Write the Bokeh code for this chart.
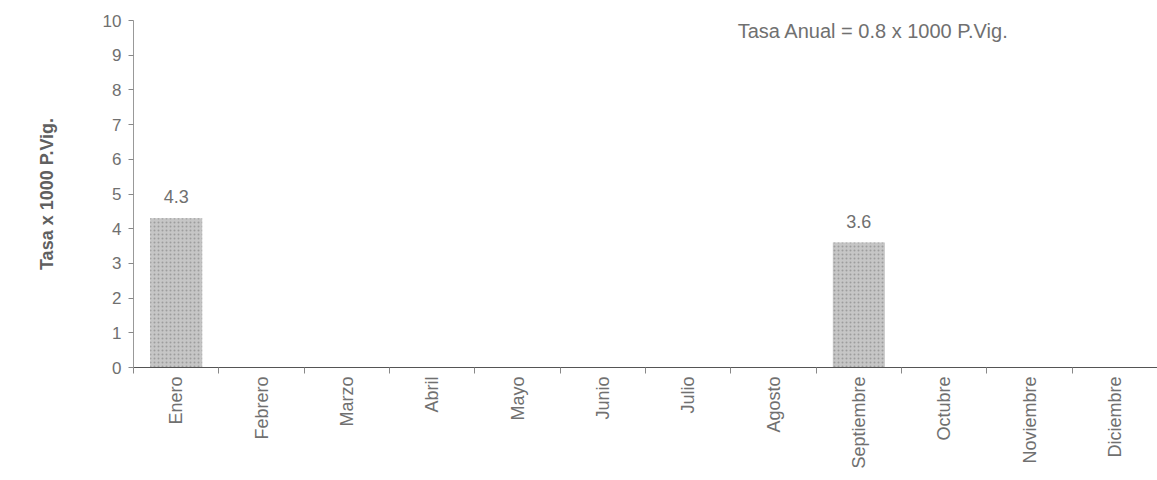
import math
from bokeh.plotting import figure
from bokeh.models import ColumnDataSource, Range1d, FixedTicker, Label
from bokeh.core.properties import value
from bokeh.embed import file_html
from bokeh.resources import INLINE

months = ["Enero", "Febrero", "Marzo", "Abril", "Mayo", "Junio", "Julio",
          "Agosto", "Septiembre", "Octubre", "Noviembre", "Diciembre"]
rates = [4.3, 0, 0, 0, 0, 0, 0, 0, 3.6, 0, 0, 0]
y_ticks = [0, 1, 2, 3, 4, 5, 6, 7, 8, 9, 10]
annotation = "Tasa Anual = 0.8 x 1000 P.Vig."
y_title = "Tasa x 1000 P.Vig."

FONT = "Liberation Sans"
TXT = "#707070"

centers = [i + 0.5 for i in range(len(months))]
bounds = list(range(len(months) + 1))

src = ColumnDataSource(dict(x=centers, top=rates, month=months))
lab = ColumnDataSource(dict(
    x=[c for c, r in zip(centers, rates) if r > 0],
    y=[r for r in rates if r > 0],
    t=[f"{r:.1f}" for r in rates if r > 0],
))

p = figure(width=1157, height=472, output_backend="svg", toolbar_location=None,
           x_range=Range1d(0, len(months)), y_range=Range1d(0, 10),
           min_border_left=133, min_border_right=0, min_border_top=20,
           min_border_bottom=105)
p.outline_line_color = None
p.xgrid.visible = False
p.ygrid.visible = False
p.background_fill_color = "white"

p.vbar(x="x", top="top", bottom=0, width=0.61, source=src,
       fill_color="#c6c6c6", line_color=None,
       hatch_pattern="dot", hatch_color="#8c8c8c", hatch_scale=4, hatch_alpha=0.7)

p.text(x="x", y="y", text="t", source=lab, text_align="center",
       text_baseline="bottom", y_offset=-15, text_font=value(FONT),
       text_font_size="18px", text_color=TXT)

p.add_layout(Label(x=7.08, y=9.71, text=annotation, text_baseline="middle",
                   text_font=FONT, text_font_size="20px", text_color=TXT))

# x axis
xa = p.xaxis[0]
xa.ticker = FixedTicker(ticks=centers, minor_ticks=bounds)
xa.major_label_overrides = {c: m for c, m in zip(centers, months)}
xa.major_label_orientation = math.pi / 2
xa.major_tick_line_color = None
xa.minor_tick_line_color = "#888888"
xa.minor_tick_in = 0
xa.minor_tick_out = 6
xa.axis_line_color = "#555555"
xa.major_label_text_font = FONT
xa.major_label_text_font_size = "18px"
xa.major_label_text_color = TXT
xa.major_label_standoff = 3

# y axis
ya = p.yaxis[0]
ya.ticker = FixedTicker(ticks=y_ticks)
ya.minor_tick_line_color = None
ya.major_tick_in = 0
ya.major_tick_out = 5
ya.major_tick_line_color = "#888888"
ya.axis_line_color = "#999999"
ya.major_label_text_font = FONT
ya.major_label_text_font_size = "17px"
ya.major_label_text_color = TXT
ya.major_label_standoff = 7
ya.axis_label = y_title
ya.axis_label_text_font = FONT
ya.axis_label_text_font_style = "bold"
ya.axis_label_text_font_size = "18px"
ya.axis_label_text_color = "#606060"
ya.axis_label_standoff = 43

open("out.html", "w").write(file_html(p, INLINE))
